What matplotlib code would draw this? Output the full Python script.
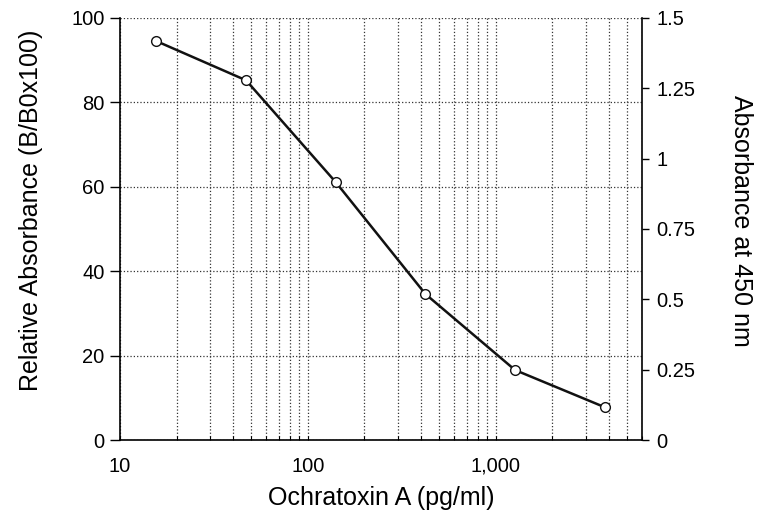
import numpy as np
import matplotlib
matplotlib.use("Agg")
import matplotlib.pyplot as plt
from matplotlib.ticker import FixedLocator, LogLocator, NullFormatter

plt.rcParams['font.family'] = ['Liberation Sans', 'DejaVu Sans']

# standard curve: 3-fold dilutions of ochratoxin A
conc = [15.6, 46.9, 140.6, 421.9, 1265.6, 3796.9]
rel_abs = [94.5, 85.2, 61.1, 34.6, 16.6, 7.8]

left_ticks = [0, 20, 40, 60, 80, 100]
right_ticks = [0, 0.25, 0.5, 0.75, 1, 1.25, 1.5]
right_labels = ['0', '0.25', '0.5', '0.75', '1', '1.25', '1.5']
x_ticks = [10, 100, 1000]
x_labels = ['10', '100', '1,000']

fig = plt.figure(figsize=(7.59, 5.24), dpi=100)
ax = fig.add_axes([0.158, 0.160, 0.688, 0.806])

ax.plot(conc, rel_abs, color='#111111', lw=1.8, marker='o', ms=7,
        mfc='white', mec='#111111', mew=1.0, zorder=3)

ax.set_xscale('log')
ax.set_xlim(10, 6000)
ax.set_ylim(0, 100)
ax.xaxis.set_major_locator(FixedLocator(x_ticks))
ax.set_xticklabels(x_labels)
ax.xaxis.set_minor_locator(LogLocator(base=10, subs=np.arange(2, 10)))
ax.xaxis.set_minor_formatter(NullFormatter())
ax.set_yticks(left_ticks)

ax.grid(True, which='both', axis='x', ls=':', lw=0.9, color='#333333')
ax.grid(True, which='major', axis='y', ls=':', lw=0.9, color='#333333')

for s in ['top', 'right']:
    ax.spines[s].set_visible(False)
ax.spines['left'].set_linewidth(1.2)
ax.spines['bottom'].set_linewidth(1.2)

ax.tick_params(axis='y', which='major', direction='out', length=7, width=1,
               labelsize=14.5, pad=4)
ax.tick_params(axis='x', which='both', direction='in', length=3, width=0.8,
               labelsize=14.5, pad=12)

ax.set_xlabel('Ochratoxin A (pg/ml)', fontsize=18, labelpad=7)
ax.set_ylabel('Relative Absorbance (B/B0x100)', fontsize=18, labelpad=20)
ax.yaxis.label.set_y(0.545)

ax2 = ax.twinx()
ax2.set_ylim(0, 1.5)
ax2.set_yticks(right_ticks)
ax2.set_yticklabels(right_labels)
for s in ['top', 'left', 'bottom']:
    ax2.spines[s].set_visible(False)
ax2.spines['right'].set_linewidth(1.2)
ax2.tick_params(axis='y', direction='out', length=5, width=1,
                labelsize=14.5, pad=5)
ax2.set_ylabel('Absorbance at 450 nm', fontsize=18, rotation=-90, labelpad=42)
ax2.yaxis.label.set_y(0.52)

fig.savefig('out.png', dpi=100)
